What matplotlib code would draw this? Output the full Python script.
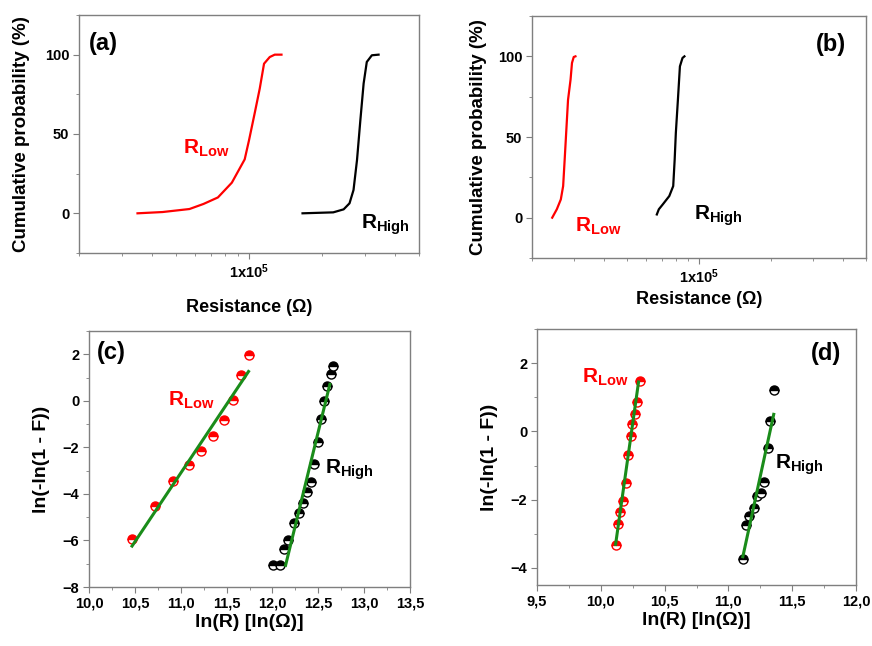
import numpy as np
import matplotlib
matplotlib.use('Agg')
import matplotlib.pyplot as plt
from matplotlib.ticker import FixedLocator, NullFormatter, MultipleLocator, FuncFormatter

plt.rcParams['font.family'] = ['Liberation Sans', 'DejaVu Sans']
plt.rcParams['font.weight'] = 'bold'
plt.rcParams['mathtext.fontset'] = 'custom'
plt.rcParams['mathtext.rm'] = 'Liberation Sans:bold'
plt.rcParams['mathtext.it'] = 'Liberation Sans:bold'
plt.rcParams['mathtext.bf'] = 'Liberation Sans:bold'
plt.rcParams['mathtext.default'] = 'rm'

# (a) cumulative probability, device 1
a_low_r = [3.48e4, 4.41e4, 5.69e4, 6.5e4, 7.45e4, 8.5e4, 9.6e4, 1.0e5, 1.055e5, 1.107e5, 1.153e5, 1.217e5, 1.276e5, 1.36e5]
a_low_p = [0, 0.8, 2.7, 5.9, 10, 19.3, 34, 46, 63, 78.6, 94.3, 98.5, 100, 100]
a_high_r = [1.66e5, 2.22e5, 2.45e5, 2.59e5, 2.69e5, 2.78e5, 2.87e5, 2.96e5, 3.05e5, 3.2e5, 3.41e5]
a_high_p = [0, 0.6, 2.5, 6.3, 14.7, 33.5, 58.7, 81.8, 95.4, 99.6, 100]

# (b) cumulative probability, device 2
b_low_r = [2.43e4, 2.54e4, 2.64e4, 2.70e4, 2.74e4, 2.79e4, 2.83e4, 2.90e4, 2.94e4, 2.99e4, 3.04e4]
b_low_p = [0, 5.2, 11.3, 19.6, 36, 56.7, 73, 85.6, 95.9, 99.6, 100]
b_high_r = [6.66e4, 6.79e4, 7.05e4, 7.51e4, 7.80e4, 7.91e4, 8.0e4, 8.16e4, 8.32e4, 8.53e4, 8.69e4]
b_high_p = [2, 5.2, 8.2, 13.4, 19.6, 36, 52.6, 73, 93.8, 99, 100]

# (c) Weibull plot, device 1
c_low_x = [10.469, 10.717, 10.917, 11.095, 11.226, 11.357, 11.470, 11.571, 11.655, 11.739]
c_low_y = [-5.93, -4.53, -3.46, -2.77, -2.17, -1.53, -0.84, 0.04, 1.09, 1.97]
c_low_fit_x = [10.469, 11.739]
c_low_fit_y = [-6.24, 1.26]
c_high_x = [12.008, 12.081, 12.128, 12.175, 12.234, 12.288, 12.332, 12.375, 12.415, 12.448, 12.492, 12.525, 12.557, 12.597, 12.634, 12.663]
c_high_y = [-7.07, -7.07, -6.36, -5.96, -5.27, -4.84, -4.39, -3.93, -3.49, -2.71, -1.76, -0.76, 0.01, 0.64, 1.16, 1.51]
c_high_fit_x = [12.143, 12.626]
c_high_fit_y = [-7.07, 0.71]

# (d) Weibull plot, device 2
d_low_x = [10.116, 10.134, 10.152, 10.176, 10.194, 10.212, 10.236, 10.246, 10.267, 10.285, 10.304]
d_low_y = [-3.33, -2.70, -2.37, -2.03, -1.50, -0.70, -0.13, 0.23, 0.50, 0.85, 1.49]
d_low_fit_x = [10.116, 10.296]
d_low_fit_y = [-3.31, 1.45]
d_high_x = [11.113, 11.134, 11.165, 11.199, 11.225, 11.254, 11.282, 11.308, 11.329, 11.355]
d_high_y = [-3.73, -2.73, -2.47, -2.24, -1.90, -1.79, -1.48, -0.50, 0.30, 1.20]
d_high_fit_x = [11.113, 11.355]
d_high_fit_y = [-3.67, 0.50]

RED = '#ff0000'
GREEN = '#1a8c1a'
FRAME = '#7f7f7f'

fig = plt.figure(figsize=(8.72, 6.46), dpi=100)
ax_a = fig.add_axes([0.0906, 0.6084, 0.3899, 0.3684])
ax_b = fig.add_axes([0.6101, 0.6006, 0.3830, 0.3746])
ax_c = fig.add_axes([0.1021, 0.0913, 0.3681, 0.3963])
ax_d = fig.add_axes([0.6158, 0.0944, 0.3659, 0.3963])


def style(ax):
    for s in ax.spines.values():
        s.set_color(FRAME)
        s.set_linewidth(1.0)
    ax.tick_params(which='both', direction='out', top=False, right=False,
                   color=FRAME, labelsize=10.5, pad=3)
    ax.tick_params(which='major', length=4)
    ax.tick_params(which='minor', length=2.5)


# --- (a) and (b) ---
for ax, lr, lp, hr, hp in [(ax_a, a_low_r, a_low_p, a_high_r, a_high_p),
                           (ax_b, b_low_r, b_low_p, b_high_r, b_high_p)]:
    ax.plot(lr, lp, color=RED, lw=1.6)
    ax.plot(hr, hp, color='black', lw=1.6)
    ax.set_xscale('log')
    ax.set_xlim(2e4, 5e5)
    ax.set_ylim(-25, 125)
    ax.yaxis.set_major_locator(FixedLocator([0, 50, 100]))
    ax.yaxis.set_minor_locator(FixedLocator([-25, 25, 75, 125]))
    ax.xaxis.set_major_locator(FixedLocator([1e5]))
    ax.xaxis.set_major_formatter(FuncFormatter(lambda v, p: r'1x10$^{5}$'))
    ax.xaxis.set_minor_locator(FixedLocator([k * 1e4 for k in range(2, 10)] + [k * 1e5 for k in range(2, 6)]))
    ax.xaxis.set_minor_formatter(NullFormatter())
    style(ax)
    ax.set_ylabel('Cumulative probability (%)', fontsize=13.5, fontweight='bold')
    ax.set_xlabel('Resistance (Ω)', fontsize=13, fontweight='bold')

ax_a.xaxis.labelpad = 13
ax_b.xaxis.labelpad = 3
ax_a.yaxis.labelpad = 11
ax_b.yaxis.labelpad = 8

ax_a.text(0.03, 0.93, '(a)', transform=ax_a.transAxes, fontsize=17, fontweight='bold', va='top')
ax_a.text(0.305, 0.44, r'R$_{Low}$', transform=ax_a.transAxes, fontsize=15, color=RED, va='center')
ax_a.text(0.83, 0.12, r'R$_{High}$', transform=ax_a.transAxes, fontsize=15, color='black', va='center')

ax_b.text(0.85, 0.93, '(b)', transform=ax_b.transAxes, fontsize=17, fontweight='bold', va='top')
ax_b.text(0.13, 0.13, r'R$_{Low}$', transform=ax_b.transAxes, fontsize=15, color=RED, va='center')
ax_b.text(0.485, 0.175, r'R$_{High}$', transform=ax_b.transAxes, fontsize=15, color='black', va='center')

# --- (c) and (d) ---
mk = dict(marker='o', ls='none', ms=6.5, fillstyle='top', markerfacecoloralt='white', mew=1.0)
comma = FuncFormatter(lambda v, p: ('%.1f' % v).replace('.', ','))

ax_c.plot(c_low_x, c_low_y, color=RED, mec=RED, **mk)
ax_c.plot(c_high_x, c_high_y, color='black', mec='black', **mk)
ax_c.plot(c_low_fit_x, c_low_fit_y, color=GREEN, lw=2.2)
ax_c.plot(c_high_fit_x, c_high_fit_y, color=GREEN, lw=2.2)
ax_c.set_xlim(10, 13.5)
ax_c.set_ylim(-8, 3)
ax_c.xaxis.set_major_locator(MultipleLocator(0.5))
ax_c.xaxis.set_minor_locator(MultipleLocator(0.25))
ax_c.xaxis.set_major_formatter(comma)
ax_c.yaxis.set_major_locator(FixedLocator([-8, -6, -4, -2, 0, 2]))
ax_c.yaxis.set_minor_locator(FixedLocator([-7, -5, -3, -1, 1, 3]))

ax_d.plot(d_low_x, d_low_y, color=RED, mec=RED, **mk)
ax_d.plot(d_high_x, d_high_y, color='black', mec='black', **mk)
ax_d.plot(d_low_fit_x, d_low_fit_y, color=GREEN, lw=2.2)
ax_d.plot(d_high_fit_x, d_high_fit_y, color=GREEN, lw=2.2)
ax_d.set_xlim(9.5, 12)
ax_d.set_ylim(-4.5, 3)
ax_d.xaxis.set_major_locator(MultipleLocator(0.5))
ax_d.xaxis.set_minor_locator(MultipleLocator(0.25))
ax_d.xaxis.set_major_formatter(comma)
ax_d.yaxis.set_major_locator(FixedLocator([-4, -2, 0, 2]))
ax_d.yaxis.set_minor_locator(FixedLocator([-3, -1, 1, 3]))

for ax in (ax_c, ax_d):
    style(ax)
    ax.set_xlabel('ln(R) [ln(Ω)]', fontsize=14, fontweight='bold', labelpad=2)
    ax.set_ylabel('ln(-ln(1 - F))', fontsize=14, fontweight='bold', labelpad=9)

ax_c.text(0.025, 0.96, '(c)', transform=ax_c.transAxes, fontsize=17, fontweight='bold', va='top')
ax_c.text(0.245, 0.73, r'R$_{Low}$', transform=ax_c.transAxes, fontsize=15, color=RED, va='center')
ax_c.text(0.735, 0.46, r'R$_{High}$', transform=ax_c.transAxes, fontsize=15, color='black', va='center')

ax_d.text(0.86, 0.95, '(d)', transform=ax_d.transAxes, fontsize=17, fontweight='bold', va='top')
ax_d.text(0.14, 0.81, r'R$_{Low}$', transform=ax_d.transAxes, fontsize=15, color=RED, va='center')
ax_d.text(0.745, 0.47, r'R$_{High}$', transform=ax_d.transAxes, fontsize=15, color='black', va='center')

# tick labels in bold, set after the ticks are made
fig.canvas.draw()
for ax in (ax_a, ax_b, ax_c, ax_d):
    plt.setp(ax.get_xticklabels() + ax.get_yticklabels(), fontweight='bold')

fig.savefig('out.png', dpi=100)
